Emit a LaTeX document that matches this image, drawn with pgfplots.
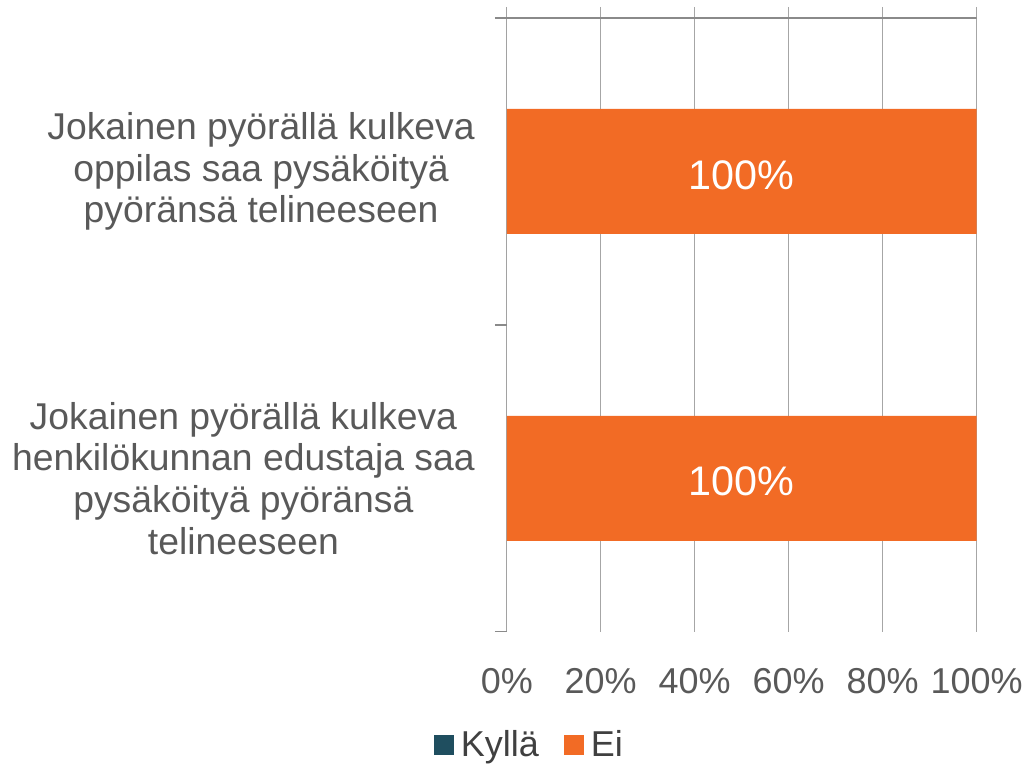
\documentclass[border=0pt]{standalone}
\usepackage{pgfplots}
\pgfplotsset{compat=1.18}
\usepackage{fontspec}
\setmainfont{Liberation Sans}
\definecolor{kylla}{HTML}{1F4E5F}
\definecolor{ei}{HTML}{F26B25}
\definecolor{txt}{HTML}{595959}
\definecolor{legtxt}{HTML}{404040}
\definecolor{gridc}{HTML}{A6A6A6}
\definecolor{axc}{HTML}{8A8A8A}
\begin{document}
\begin{tikzpicture}[x=1pt,y=1pt]
\path (-380.25,-97.5) rectangle (390,474);
\begin{axis}[at={(0,0)}, anchor=south west, scale only axis,
  width=352.5pt, height=468.75pt,
  xbar stacked, bar width=93.75pt,
  xmin=0, xmax=100, ymin=-0.536, ymax=1.5, y dir=reverse,
  xtick={0,20,40,60,80,100},
  xticklabels={0\%,20\%,40\%,60\%,80\%,100\%},
  xmajorgrids, grid style={gridc, line width=1pt},
  major tick length=0pt, tick pos=left,
  ytick={0,1},
  yticklabels={{Jokainen pyörällä kulkeva\\oppilas saa pysäköityä\\pyöränsä telineeseen},
               {Jokainen pyörällä kulkeva\\henkilökunnan edustaja saa\\pysäköityä pyöränsä\\telineeseen}},
  yticklabel style={align=center, font=\fontsize{28}{31.3}\selectfont, text=txt, xshift=-20.5pt},
  xticklabel style={font=\fontsize{27}{30}\selectfont, text=txt, yshift=-24pt},
  axis line style={draw=none},
  extra y ticks={-0.5,0.5,1.5}, extra y tick labels={},
  extra y tick style={major tick length=9pt, tick align=outside, tick style={axc, line width=1pt}},
  legend columns=2,
  legend style={draw=none, fill=none, at={(0.049,-0.181)}, anchor=center,
    font=\fontsize{27}{30}\selectfont, text=legtxt,
    /tikz/every even column/.append style={column sep=17pt},
    /tikz/every odd column/.append style={column sep=3pt}},
  legend image code/.code={\fill[#1] (0pt,-7.5pt) rectangle (15pt,7.5pt);},
  /pgf/number format/assume math mode=true,
]
\addplot[fill=kylla, draw=none] coordinates {(0,0) (0,1)};
\addplot[fill=ei, draw=none, point meta=explicit symbolic,
  nodes near coords,
  every node near coord/.append style={anchor=center, text=white, yshift=-2.5pt,
     font=\fontsize{31}{35}\selectfont}]
  coordinates {(100,0) [100\%] (100,1) [100\%]};
\legend{Kyllä,Ei}
\draw[axc, line width=1pt] (axis cs:0,-0.5) -- (axis cs:100,-0.5);
\draw[axc, line width=1pt] (rel axis cs:0,0) -- (rel axis cs:0,1);
\end{axis}
\end{tikzpicture}
\end{document}
